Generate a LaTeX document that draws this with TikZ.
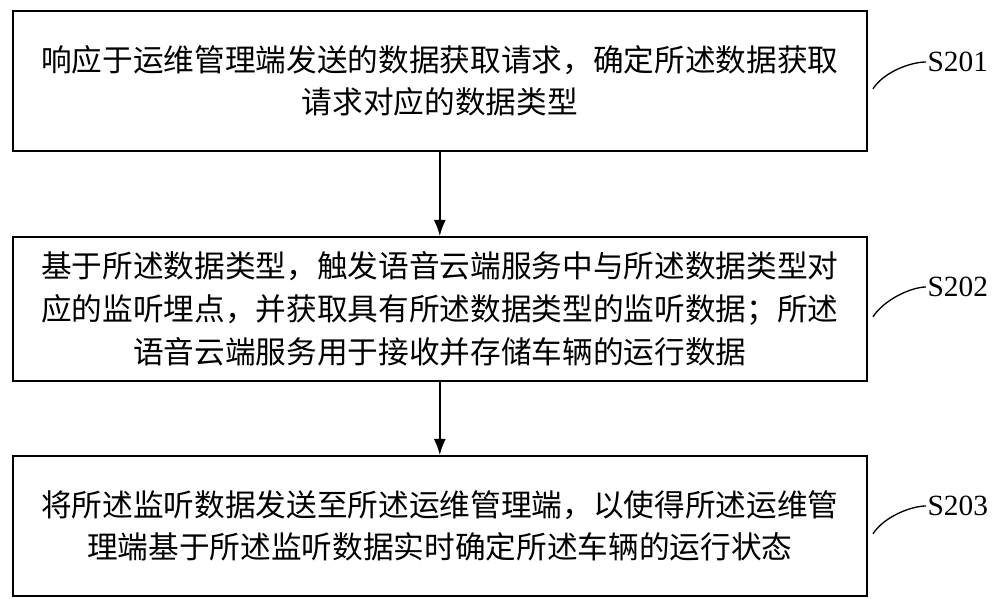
\documentclass[tikz,border=0pt]{standalone}
\usepackage{fontspec}
\newfontfamily\cjk{Noto Sans CJK SC}
\setmainfont{Liberation Serif}
\begin{document}
\begin{tikzpicture}[x=0.75pt,y=-0.75pt,
  box/.style={draw,line width=1.2pt,minimum width=854*0.75pt,anchor=north west,inner sep=0pt,align=center,font=\cjk\fontsize{23pt}{32pt}\selectfont},
  arr/.style={-{Latex[length=12pt,width=9pt]},line width=1.2pt},
  lab/.style={font=\fontsize{22pt}{24pt}\selectfont,anchor=west,inner sep=1pt}]
\usetikzlibrary{arrows.meta}
\useasboundingbox (0,0) rectangle (1000,605);
\node[box,minimum height=140*0.75pt] (b1) at (12,10) {响应于运维管理端发送的数据获取请求，确定所述数据获取\\请求对应的数据类型};
\node[box,minimum height=144*0.75pt] (b2) at (12,236) {基于所述数据类型，触发语音云端服务中与所述数据类型对\\应的监听埋点，并获取具有所述数据类型的监听数据；所述\\语音云端服务用于接收并存储车辆的运行数据};
\node[box,minimum height=140*0.75pt] (b3) at (12,455) {将所述监听数据发送至所述运维管理端，以使得所述运维管\\理端基于所述监听数据实时确定所述车辆的运行状态};
\draw[arr] (b1.south) -- (b2.north);
\draw[arr] (b2.south) -- (b3.north);
\node[lab] (l1) at (926,62) {S201};
\node[lab] (l2) at (926,287) {S202};
\node[lab] (l3) at (926,506) {S203};
\foreach \b/\l in {b1/l1,b2/l2,b3/l3}
  \draw[line width=1pt] ([xshift=4pt,yshift=-6pt]\b.east) .. controls +(12,-18) and +(-14,0) .. (\l.west);
\end{tikzpicture}
\end{document}
